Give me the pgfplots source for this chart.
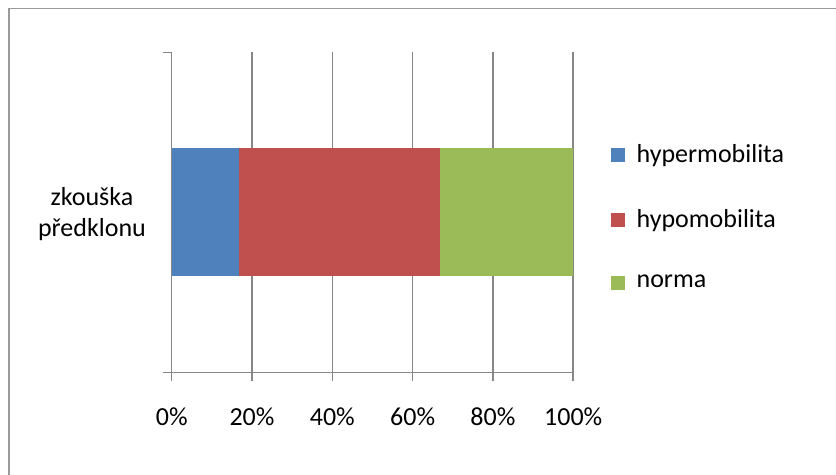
\documentclass[border=0pt]{standalone}
\usepackage{fontspec}
\setmainfont{Carlito}
\usepackage{pgfplots}
\pgfplotsset{compat=1.18}
\definecolor{xlblue}{HTML}{4F81BD}
\definecolor{xlred}{HTML}{C0504D}
\definecolor{xlgreen}{HTML}{9BBB59}
\definecolor{xlgrid}{HTML}{878787}
\definecolor{xlframe}{HTML}{9A9A9A}
\pgfplotsset{
  sqlegend/.style={legend image code/.code={\fill[##1,draw=none] (0bp,-7bp) rectangle (14bp,7bp);}},
}
\begin{document}
\fontsize{26bp}{31bp}\selectfont
\begin{tikzpicture}[x=1bp,y=1bp]
\path[use as bounding box] (0,0) rectangle (836,475);
% chart frame (only its left and top edges fall inside the page)
\draw[xlframe, line width=1.5bp] (9,-20) -- (9,466.5) -- (860,466.5);
\begin{axis}[
  at={(171.7bp,102.7bp)}, anchor=south west,
  scale only axis, width=401.5bp, height=320bp,
  xbar stacked, bar width=0.4,
  xmin=0, xmax=100, ymin=-0.5, ymax=0.5,
  axis x line*=bottom, axis y line*=left,
  axis line style={xlgrid, line width=1.5bp},
  every tick/.style={xlgrid, line width=1.5bp},
  tick align=outside, major tick length=8.5bp,
  xtick={0,20,...,100},
  xticklabel={\pgfmathprintnumber{\tick}\%},
  /pgf/number format/assume math mode=true,
  xmajorgrids, grid style={xlgrid, line width=1.5bp},
  xticklabel style={anchor=base, yshift=-45bp, text=black},
  ytick={-0.5,0.5}, yticklabels={},
  extra y ticks={0},
  extra y tick labels={{zkouška\\předklonu}},
  extra y tick style={major tick length=0pt,
    yticklabel style={align=center, anchor=east, xshift=-17bp, yshift=-2bp, text=black}},
  legend style={at={(1,1)}, anchor=north west, xshift=37.5bp, yshift=-92bp,
    draw=none, fill=none, inner sep=0pt, row sep=43bp,
    nodes={inner sep=0pt, text=black},
    /tikz/every odd column/.append style={column sep=11.7bp}},
  legend cell align=left,
]
\addplot[fill=xlblue, draw=none, sqlegend] coordinates {(16.7,0)};
\addplot[fill=xlred, draw=none, sqlegend] coordinates {(50.0,0)};
\addplot[fill=xlgreen, draw=none, sqlegend] coordinates {(33.3,0)};
\legend{hypermobilita, hypomobilita, norma}
\end{axis}
\end{tikzpicture}
\end{document}
